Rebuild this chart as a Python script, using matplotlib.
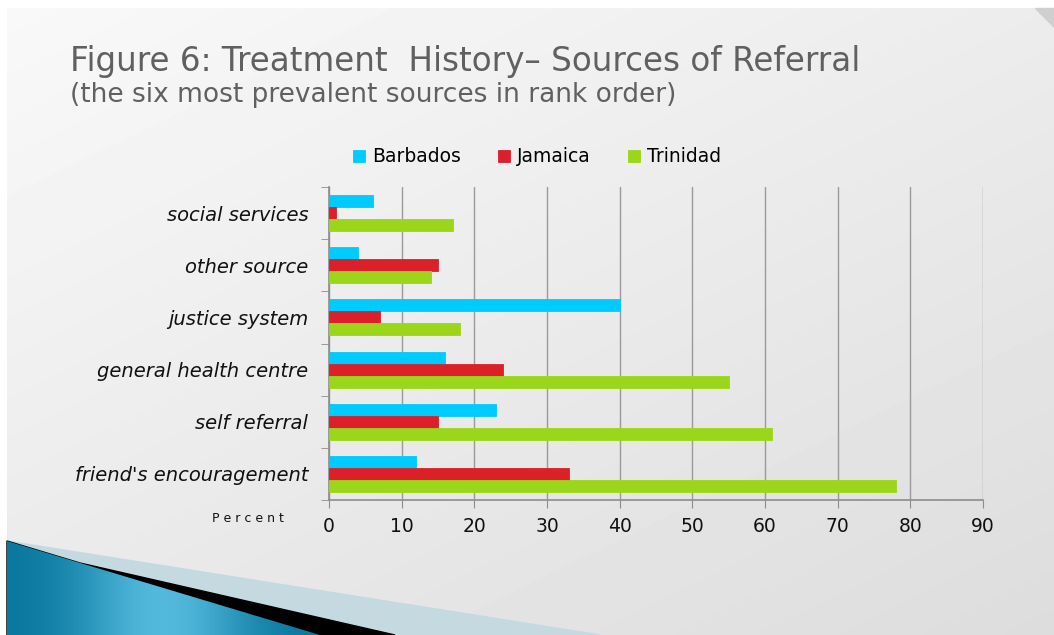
import numpy as np
import matplotlib
matplotlib.use("Agg")
import matplotlib.pyplot as plt
from matplotlib.patches import Polygon, Rectangle

# ---------------------- data ----------------------
categories = ["friend's encouragement", "self referral", "general health centre",
              "justice system", "other source", "social services"]
barbados = [12, 23, 16, 40, 4, 6]
jamaica = [33, 15, 24, 7, 15, 1]
trinidad = [78, 61, 55, 18, 14, 17]
series_names = ["Barbados", "Jamaica", "Trinidad"]
series_colors = ["#00cbff", "#dc2029", "#9bd61a"]
x_ticks = [0, 10, 20, 30, 40, 50, 60, 70, 80, 90]

W, H = 1054, 635
fig = plt.figure(figsize=(W / 100, H / 100), dpi=100)

# ---------------------- slide background ----------------------
bg = fig.add_axes([0, 0, 1, 1])
bg.set_xlim(0, W)
bg.set_ylim(H, 0)
bg.axis("off")
bg.add_patch(Rectangle((0, 0), W, H, color="white", zorder=0))
gx, gy = np.meshgrid(np.linspace(0, 1, 200), np.linspace(0, 1, 120))
grad = 0.975 - 0.11 * (0.45 * gx + 0.55 * gy)
bg.imshow(grad, cmap="gray", vmin=0, vmax=1, extent=(7, W, H, 8),
          aspect="auto", zorder=1, interpolation="bilinear")
# top-right page curl
bg.add_patch(Polygon([(1035, 8), (W, 8), (W, 27)], color="#cfcfcf", zorder=2))

# bottom-left swoosh
bg.add_patch(Polygon([(7, 541), (600, 635), (7, 635)], color="#c4d9e0", zorder=2))
bg.add_patch(Polygon([(80, 563), (395, 635), (7, 635), (7, 541)], color="black", zorder=3))
blue = Polygon([(7, 541), (320, 635), (7, 635)], color="none", zorder=4)
bg.add_patch(blue)
bx = np.linspace(0, 1, 200)
bgrad = np.exp(-((bx - 0.5) / 0.28) ** 2)
img = bg.imshow(np.tile(bgrad, (10, 1)),
                cmap=matplotlib.colors.LinearSegmentedColormap.from_list(
                    "sw", ["#0a789f", "#52b9dc"]),
                extent=(7, 320, 635, 540), aspect="auto", zorder=4)
img.set_clip_path(blue)

# ---------------------- titles ----------------------
fig.text(70 / W, 1 - 62 / H, "Figure 6: Treatment  History\u2013 Sources of Referral",
         fontsize=23.5, color="#606060", va="center", ha="left")
fig.text(70 / W, 1 - 95 / H, "(the six most prevalent sources in rank order)",
         fontsize=19, color="#606060", va="center", ha="left")

# ---------------------- chart ----------------------
ax = fig.add_axes([329 / W, 1 - 500 / H, (983 - 329) / W, (500 - 187) / H])
ax.patch.set_alpha(0)
y = np.arange(len(categories))
h = 0.23
for vals, name, col, off in zip([barbados, jamaica, trinidad], series_names,
                                series_colors, [h, 0, -h]):
    ax.barh(y + off, vals, height=h, color=col, label=name, zorder=3,
            edgecolor=col, linewidth=0.6)

ax.set_xlim(0, 90)
ax.set_ylim(-0.5, len(categories) - 0.5)
ax.set_xticks(x_ticks)
ax.set_xticklabels([str(t) for t in x_ticks], fontsize=13.5, color="#111111")
ax.set_yticks(y)
ax.set_yticklabels(categories, fontsize=14, style="italic", color="#111111")
ax.set_yticks(np.arange(-0.5, len(categories), 1), minor=True)
ax.tick_params(axis="y", which="major", length=0, pad=15)
ax.tick_params(axis="y", which="minor", length=6, color="#8c8c8c", direction="out")
ax.tick_params(axis="x", length=6, color="#8c8c8c", direction="out", pad=6)
ax.grid(axis="x", color="#9a9a9a", linewidth=1, zorder=0)
for s in ["top", "right"]:
    ax.spines[s].set_visible(False)
for s in ["left", "bottom"]:
    ax.spines[s].set_color("#8c8c8c")
    ax.spines[s].set_linewidth(1.2)

fig.text(248 / W, 1 - 519 / H, "P e r c e n t", fontsize=9, color="#111111",
         ha="center", va="center")

fig.legend(loc="center", bbox_to_anchor=(537 / W, 1 - 157 / H), ncol=3,
           frameon=False, fontsize=13.5, handlelength=0.65, handleheight=0.65,
           columnspacing=2.0, handletextpad=0.35)

fig.savefig("out.png", dpi=100)
